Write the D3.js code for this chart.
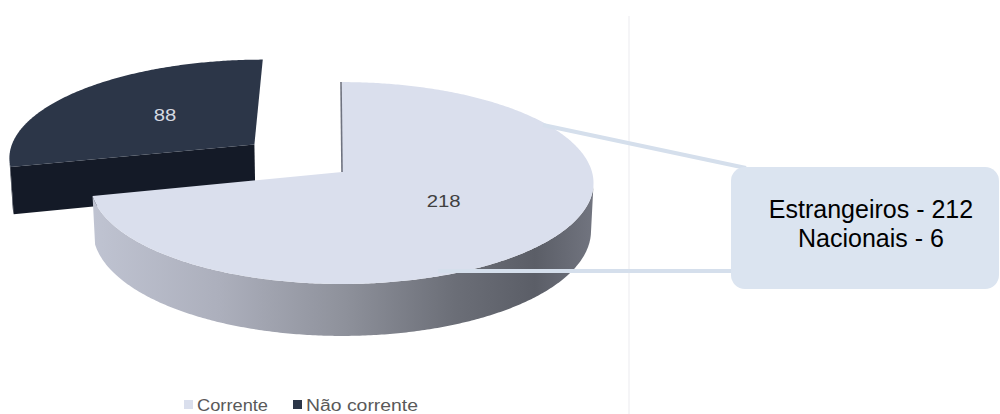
<!DOCTYPE html>
<html>
<head>
<meta charset="utf-8">
<script src="https://cdn.jsdelivr.net/npm/d3@7"></script>
<style>
  html, body { margin: 0; padding: 0; background: #ffffff; }
  svg { display: block; }
</style>
</head>
<body>
<svg id="chart" width="1000" height="414"></svg>
<script>
// ---- data ----
const categories = ["Corrente", "Não corrente"];
const values = [218, 88];
const calloutLines = ["Estrangeiros - 212", "Nacionais - 6"];

// ---- styles / layout ----
const topColors = ["#dadfed", "#2c3648"];
const frontDark = "#141a27";
const W = 1000, H = 414;
// perspective camera for the 3D pie
const cam = { cx: 342, cy: 172, F: 250, s: 0.399, c: 0.917, D: 8.4 };
const thickness = 0.209;
const explode = [0, 0.46];

function proj(X, Yb, Hh) {
  const w = 1 + (cam.c * Yb - cam.s * Hh) / cam.D;
  return [cam.cx + cam.F * X / w, cam.cy - cam.F * (cam.s * Yb + cam.c * Hh) / w];
}

const svg = d3.select("#chart");
const defs = svg.append("defs");
const grad = defs.append("linearGradient").attr("id", "sideGrad")
  .attr("gradientUnits", "userSpaceOnUse")
  .attr("x1", 95).attr("x2", 595).attr("y1", 0).attr("y2", 0);
[[0, "#bfc3d1"], [0.25, "#acafbc"], [0.5, "#8e919b"], [0.72, "#6b6e77"], [0.88, "#5b5e67"], [1, "#727580"]]
  .forEach(([o, c]) => grad.append("stop").attr("offset", o).attr("stop-color", c));

// faint separator
svg.append("line").attr("x1", 629).attr("x2", 629).attr("y1", 16).attr("y2", H)
  .attr("stroke", "#f2f2f4").attr("stroke-width", 1.5);

const arcs = d3.pie().sort(null).value(d => d)(values);
const line = d3.line();

function samples(a0, a1) {
  const n = Math.max(2, Math.ceil(Math.abs(a1 - a0) / 0.01));
  return d3.range(n + 1).map(k => a0 + (a1 - a0) * k / n);
}

function drawSlice(a, i) {
  const mid = (a.startAngle + a.endAngle) / 2;
  const ox = explode[i] * Math.sin(mid), oy = explode[i] * Math.cos(mid);
  const camY = -cam.D * cam.c;
  const P = (t, r, h) => proj(ox + r * Math.sin(t), oy + r * Math.cos(t), h);
  const a0 = a.startAngle, a1 = a.endAngle;
  const g = svg.append("g");

  // outer wall (only the part facing the camera)
  const vis = samples(a0, a1).filter(t =>
    (-ox - Math.sin(t)) * Math.sin(t) + (camY - oy - Math.cos(t)) * Math.cos(t) > 0);
  if (vis.length > 1) {
    const pts = vis.map(t => P(t, 1, 0)).concat(vis.slice().reverse().map(t => P(t, 1, -thickness)));
    g.append("path").attr("d", line(pts) + "Z")
      .attr("fill", i === 0 ? "url(#sideGrad)" : "#1a2131");
  }
  // front radial face (start edge) when facing the camera
  const nx = -Math.cos(a0), ny = Math.sin(a0);
  if ((-ox) * nx + (camY - oy) * ny > 1e-6) {
    const quad = [P(a0, 0, 0), P(a0, 1, 0), P(a0, 1, -thickness), P(a0, 0, -thickness)];
    g.append("path").attr("d", line(quad) + "Z").attr("fill", frontDark);
  }
  // top face
  const top = [P(0, 0, 0)].concat(samples(a0, a1).map(t => P(t, 1, 0)));
  g.append("path").attr("d", line(top) + "Z").attr("fill", topColors[i]);
  // edge-on radial face at 12 o'clock of the main slice
  if (i === 0) {
    const p1 = P(a0, 1, 0), p2 = P(a0, 0, 0);
    g.append("line").attr("x1", p1[0] - 1).attr("y1", p1[1]).attr("x2", p2[0]).attr("y2", p2[1])
      .attr("stroke", "#6f7380").attr("stroke-width", 1.6);
  }
  // value label
  const lp = P(mid, 0.5, 0);
  const label = String(values[i]);
  g.append("text")
    .attr("x", lp[0]).attr("y", lp[1] + (i === 0 ? 3 : 5))
    .attr("text-anchor", "middle")
    .attr("font-family", "Liberation Sans, Arial, sans-serif")
    .attr("font-size", 17)
    .attr("textLength", label.length * 11.3).attr("lengthAdjust", "spacingAndGlyphs")
    .attr("fill", i === 0 ? "#404040" : "#d6dae2")
    .text(label);
}
// back (exploded) slice first
drawSlice(arcs[1], 1);
drawSlice(arcs[0], 0);

// callout connectors
const connColor = "#d5dfec";
svg.append("line").attr("x1", 543).attr("y1", 125).attr("x2", 746).attr("y2", 168)
  .attr("stroke", connColor).attr("stroke-width", 4);
svg.append("line").attr("x1", 438).attr("y1", 271).attr("x2", 735).attr("y2", 271)
  .attr("stroke", connColor).attr("stroke-width", 4);
// callout box
svg.append("rect").attr("x", 731).attr("y", 167).attr("width", 268).attr("height", 122)
  .attr("rx", 14).attr("fill", "#dbe4f0");
svg.append("text")
  .attr("x", 871).attr("text-anchor", "middle")
  .attr("font-family", "Liberation Sans, Arial, sans-serif")
  .attr("font-size", 25).attr("fill", "#000")
  .selectAll("tspan").data(calloutLines).join("tspan")
  .attr("x", 871).attr("y", (d, i) => 218 + i * 29).text(d => d);

// legend
const legendX = [184, 293];
const legendW = [71, 112];
const lg = svg.append("g");
categories.forEach((c, i) => {
  lg.append("rect").attr("x", legendX[i]).attr("y", 400).attr("width", 9).attr("height", 9)
    .attr("fill", topColors[i]);
  lg.append("text").attr("x", legendX[i] + 13).attr("y", 411)
    .attr("font-family", "Liberation Sans, Arial, sans-serif")
    .attr("font-size", 16).attr("fill", "#595959")
    .attr("textLength", legendW[i]).attr("lengthAdjust", "spacingAndGlyphs")
    .text(c);
});
</script>
</body>
</html>
